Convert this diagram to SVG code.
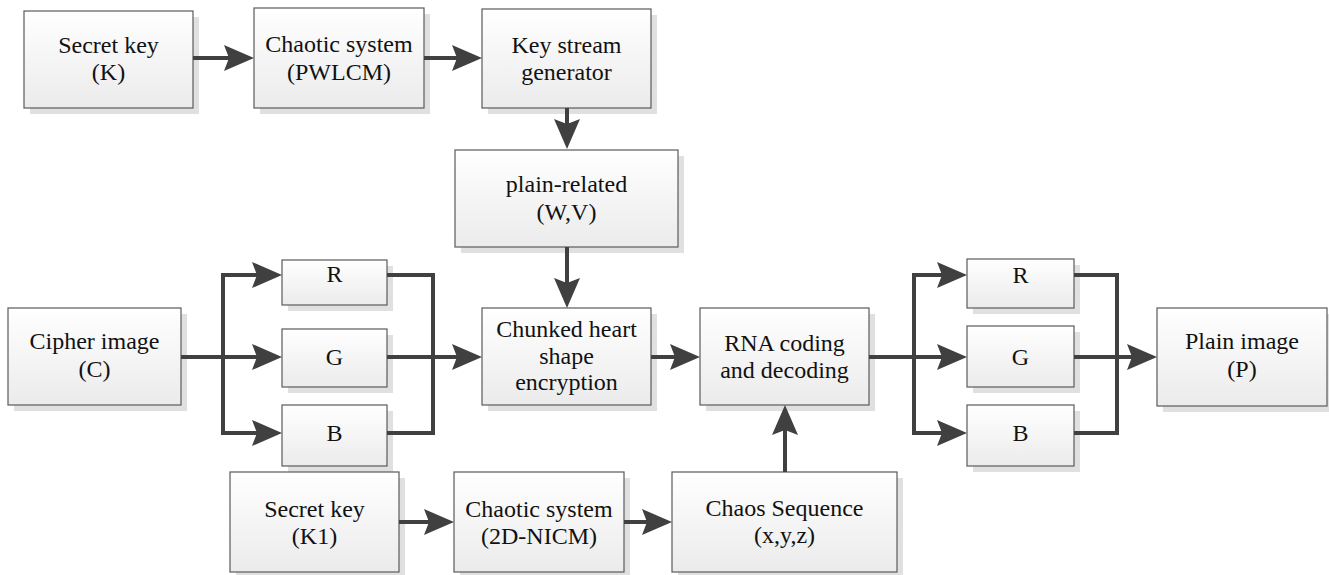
<svg xmlns="http://www.w3.org/2000/svg" width="1329" height="575" viewBox="0 0 1329 575">
  <defs>
    <linearGradient id="boxFill" x1="0" y1="0" x2="0" y2="1">
      <stop offset="0" stop-color="#ffffff"/>
      <stop offset="1" stop-color="#ebebeb"/>
    </linearGradient>
    <marker id="arrow" viewBox="0 0 30 26" markerWidth="30" markerHeight="26" refX="10" refY="13" markerUnits="userSpaceOnUse" orient="auto">
      <path d="M0,0 L30,13 L0,26 L5,13 Z" fill="#404040"/>
    </marker>
  </defs>
  <style>
    .shadow { fill: #e0e0e0; }
    .box { fill: url(#boxFill); stroke: #5a5a5a; stroke-width: 1.2; }
    .label { font-family: "Liberation Serif", "Times New Roman", serif; font-size: 24px; fill: #111; text-anchor: middle; }
    .wire { fill: none; stroke: #404040; stroke-width: 4; }
    .arr { marker-end: url(#arrow); }
  </style>

  <rect width="1329" height="575" fill="#ffffff"/>

  <!-- top row: key schedule -->
  <g id="secret-key-k">
    <rect class="shadow" x="30" y="17" width="169" height="97"/>
    <rect class="box" x="24" y="11" width="169" height="97"/>
    <text class="label" x="108.5" y="53">Secret key</text>
    <text class="label" x="108.5" y="80">(K)</text>
  </g>
  <g id="chaotic-pwlcm">
    <rect class="shadow" x="260" y="14" width="170" height="100"/>
    <rect class="box" x="254" y="8" width="170" height="100"/>
    <text class="label" x="339" y="52">Chaotic system</text>
    <text class="label" x="339" y="80">(PWLCM)</text>
  </g>
  <g id="key-stream">
    <rect class="shadow" x="488" y="15" width="169" height="99"/>
    <rect class="box" x="482" y="9" width="169" height="99"/>
    <text class="label" x="566.5" y="53">Key stream</text>
    <text class="label" x="566.5" y="80">generator</text>
  </g>
  <g id="plain-related">
    <rect class="shadow" x="461" y="156" width="223" height="97"/>
    <rect class="box" x="455" y="150" width="223" height="97"/>
    <text class="label" x="566.5" y="192">plain-related</text>
    <text class="label" x="566.5" y="220">(W,V)</text>
  </g>

  <!-- middle row -->
  <g id="cipher-image">
    <rect class="shadow" x="14" y="314" width="173" height="97"/>
    <rect class="box" x="8" y="308" width="173" height="97"/>
    <text class="label" x="94.5" y="349">Cipher image</text>
    <text class="label" x="94.5" y="377">(C)</text>
  </g>
  <g id="r-left">
    <rect class="shadow" x="288" y="266" width="105" height="45"/>
    <rect class="box" x="282" y="260" width="105" height="45"/>
    <text class="label" x="334.5" y="282">R</text>
  </g>
  <g id="g-left">
    <rect class="shadow" x="288" y="335" width="105" height="58"/>
    <rect class="box" x="282" y="329" width="105" height="58"/>
    <text class="label" x="334.5" y="365">G</text>
  </g>
  <g id="b-left">
    <rect class="shadow" x="288" y="411" width="105" height="61"/>
    <rect class="box" x="282" y="405" width="105" height="61"/>
    <text class="label" x="334.5" y="441">B</text>
  </g>
  <g id="chunked-heart">
    <rect class="shadow" x="488" y="314" width="169" height="97"/>
    <rect class="box" x="482" y="308" width="169" height="97"/>
    <text class="label" x="566.5" y="337">Chunked heart</text>
    <text class="label" x="566.5" y="364">shape</text>
    <text class="label" x="566.5" y="390">encryption</text>
  </g>
  <g id="rna-coding">
    <rect class="shadow" x="706" y="314" width="169" height="97"/>
    <rect class="box" x="700" y="308" width="169" height="97"/>
    <text class="label" x="784.5" y="351">RNA coding</text>
    <text class="label" x="784.5" y="378">and decoding</text>
  </g>
  <g id="r-right">
    <rect class="shadow" x="973" y="265" width="107" height="49"/>
    <rect class="box" x="967" y="259" width="107" height="49"/>
    <text class="label" x="1020.5" y="283">R</text>
  </g>
  <g id="g-right">
    <rect class="shadow" x="973" y="332" width="107" height="61"/>
    <rect class="box" x="967" y="326" width="107" height="61"/>
    <text class="label" x="1020.5" y="365">G</text>
  </g>
  <g id="b-right">
    <rect class="shadow" x="973" y="411" width="107" height="61"/>
    <rect class="box" x="967" y="405" width="107" height="61"/>
    <text class="label" x="1020.5" y="441">B</text>
  </g>
  <g id="plain-image">
    <rect class="shadow" x="1163" y="314" width="170" height="98"/>
    <rect class="box" x="1157" y="308" width="170" height="98"/>
    <text class="label" x="1242" y="349">Plain image</text>
    <text class="label" x="1242" y="377">(P)</text>
  </g>

  <!-- bottom row: second key chain -->
  <g id="secret-key-k1">
    <rect class="shadow" x="236" y="478" width="169" height="100"/>
    <rect class="box" x="230" y="472" width="169" height="100"/>
    <text class="label" x="314.5" y="517">Secret key</text>
    <text class="label" x="314.5" y="544">(K1)</text>
  </g>
  <g id="chaotic-2d-nicm">
    <rect class="shadow" x="460" y="478" width="170" height="100"/>
    <rect class="box" x="454" y="472" width="170" height="100"/>
    <text class="label" x="539" y="517">Chaotic system</text>
    <text class="label" x="539" y="544">(2D-NICM)</text>
  </g>
  <g id="chaos-sequence">
    <rect class="shadow" x="678" y="478" width="225" height="100"/>
    <rect class="box" x="672" y="472" width="225" height="100"/>
    <text class="label" x="784.5" y="516">Chaos Sequence</text>
    <text class="label" x="784.5" y="543">(x,y,z)</text>
  </g>

  <!-- connectors -->
  <g id="connectors">
    <path class="wire arr" d="M193,58 H234"/>
    <path class="wire arr" d="M424,58 H462"/>
    <path class="wire arr" d="M567,108 V129"/>
    <path class="wire arr" d="M567,247 V288"/>

    <path class="wire arr" d="M181,357 H262"/>
    <path class="wire arr" d="M223,357 V275 H262"/>
    <path class="wire arr" d="M223,357 V433 H262"/>
    <path class="wire" d="M387,275 H433 V433 H387"/>
    <path class="wire arr" d="M387,357 H462"/>

    <path class="wire arr" d="M651,357 H680"/>

    <path class="wire arr" d="M869,357 H947"/>
    <path class="wire arr" d="M914,357 V275 H947"/>
    <path class="wire arr" d="M914,357 V433 H947"/>
    <path class="wire" d="M1074,275 H1117 V433 H1074"/>
    <path class="wire arr" d="M1074,357 H1137"/>

    <path class="wire arr" d="M785,472 V425"/>
    <path class="wire arr" d="M399,522 H434"/>
    <path class="wire arr" d="M624,522 H652"/>
  </g>
</svg>
